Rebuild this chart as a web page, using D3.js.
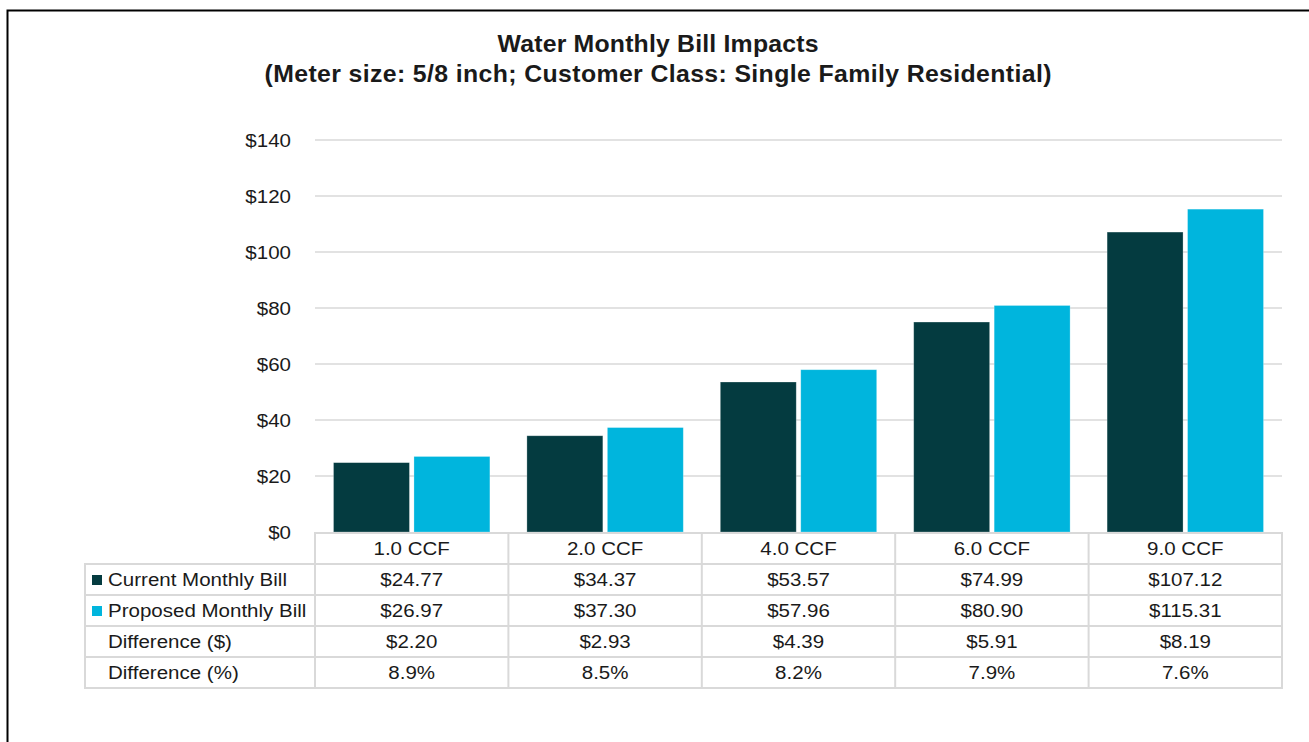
<!DOCTYPE html>
<html>
<head>
<meta charset="utf-8">
<script src="https://cdnjs.cloudflare.com/ajax/libs/d3/7.8.5/d3.min.js"></script>
<style>
  html, body { margin: 0; padding: 0; background: #ffffff; }
  svg { display: block; }
  text { font-family: "Liberation Sans", Arial, sans-serif; fill: #1a1a1a; }
</style>
</head>
<body>
<div id="chart"></div>
<script>
// ---- data ----
const categories = ['1.0 CCF', '2.0 CCF', '4.0 CCF', '6.0 CCF', '9.0 CCF'];
const seriesNames = ['Current Monthly Bill', 'Proposed Monthly Bill'];
const currentBill = [24.77, 34.37, 53.57, 74.99, 107.12];
const proposedBill = [26.97, 37.30, 57.96, 80.90, 115.31];
const diffDollar = ['$2.20', '$2.93', '$4.39', '$5.91', '$8.19'];
const diffPercent = ['8.9%', '8.5%', '8.2%', '7.9%', '7.6%'];
const yTicks = [0, 20, 40, 60, 80, 100, 120, 140];
const titleLines = [
    'Water Monthly Bill Impacts',
    '(Meter size: 5/8 inch; Customer Class: Single Family Residential)'
];

const colors = ['#043b40', '#00b5dd'];
const width = 1309, height = 742;
const SX = 1.08; // the source text is slightly wide
const plot = { left: 315, right: 1282, top: 140, bottom: 532 };
const rowH = 31;

const svg = d3.select('#chart').append('svg')
    .attr('width', width)
    .attr('height', height);

// outer frame
svg.append('rect')
    .attr('x', 7.5).attr('y', 10.5)
    .attr('width', width + 20).attr('height', height + 20)
    .attr('fill', 'none')
    .attr('stroke', '#000')
    .attr('stroke-width', 2);

function addText(parent, x, y, str, opts = {}) {
    const t = parent.append('text')
        .attr('transform', `translate(${x},${y}) scale(${SX},1)`)
        .attr('text-anchor', opts.anchor || 'middle')
        .attr('font-size', opts.size || 19)
        .attr('font-weight', opts.weight || 'normal')
        .text(str);
    if (opts.span) {
        t.attr('textLength', opts.span / SX).attr('lengthAdjust', 'spacing');
    }
    return t;
}

// title
addText(svg, 658, 52, titleLines[0], { size: 23, weight: 'bold', span: 321 });
addText(svg, 658, 82, titleLines[1], { size: 23, weight: 'bold', span: 787 });

// scales
const x0 = d3.scaleBand()
    .domain(categories)
    .range([plot.left, plot.right])
    .paddingInner(0).paddingOuter(0);

const x1 = d3.scaleBand()
    .domain(seriesNames)
    .range([0, x0.bandwidth()])
    .paddingInner(0.056)
    .paddingOuter(0.23);

const y = d3.scaleLinear()
    .domain([0, 140])
    .range([plot.bottom, plot.top]);

// gridlines + tick labels
const grid = svg.append('g').attr('class', 'grid');
grid.selectAll('line')
    .data(yTicks.filter(d => d > 0))
    .enter().append('line')
    .attr('x1', plot.left).attr('x2', plot.right)
    .attr('y1', d => y(d)).attr('y2', d => y(d))
    .attr('stroke', '#d9d9d9')
    .attr('stroke-width', 1.5);

const tickG = svg.append('g').attr('class', 'y-ticks');
yTicks.forEach(t => {
    addText(tickG, 291, y(t) + 7, '$' + t, { anchor: 'end' });
});

// bars
const barData = categories.map((c, i) => ({
    cat: c,
    values: [
        { name: seriesNames[0], v: currentBill[i], color: colors[0] },
        { name: seriesNames[1], v: proposedBill[i], color: colors[1] }
    ]
}));

const groups = svg.append('g').attr('class', 'bars')
    .selectAll('g')
    .data(barData)
    .enter().append('g')
    .attr('transform', d => `translate(${x0(d.cat)},0)`);

groups.selectAll('rect')
    .data(d => d.values)
    .enter().append('rect')
    .attr('x', d => x1(d.name))
    .attr('width', x1.bandwidth())
    .attr('y', d => y(d.v))
    .attr('height', d => y(0) - y(d.v))
    .attr('fill', d => d.color)
    .attr('stroke', '#ffffff')
    .attr('stroke-opacity', 0.35)
    .attr('stroke-width', 0.75);

// data table
const table = svg.append('g').attr('class', 'data-table');
const tableTop = plot.bottom + 1;
const labelLeft = 85;
const lineColor = '#d9d9d9';

const rows = [
    { label: seriesNames[0], key: 0, cells: currentBill.map(v => '$' + d3.format(',.2f')(v)) },
    { label: seriesNames[1], key: 1, cells: proposedBill.map(v => '$' + d3.format(',.2f')(v)) },
    { label: 'Difference ($)', key: null, cells: diffDollar },
    { label: 'Difference (%)', key: null, cells: diffPercent }
];

// header row (categories)
table.append('rect')
    .attr('x', plot.left).attr('y', tableTop)
    .attr('width', plot.right - plot.left).attr('height', rowH)
    .attr('fill', 'none').attr('stroke', lineColor).attr('stroke-width', 2);
categories.forEach(c => {
    addText(table, x0(c) + x0.bandwidth() / 2, tableTop + 22, c);
});

rows.forEach((r, i) => {
    const ry = tableTop + rowH * (i + 1);
    table.append('rect')
        .attr('x', labelLeft).attr('y', ry)
        .attr('width', plot.right - labelLeft).attr('height', rowH)
        .attr('fill', 'none').attr('stroke', lineColor).attr('stroke-width', 2);
    if (r.key !== null) {
        table.append('rect')
            .attr('x', 92).attr('y', ry + 11)
            .attr('width', 10).attr('height', 10)
            .attr('fill', colors[r.key]);
    }
    addText(table, 108, ry + 22, r.label, { anchor: 'start' });
    r.cells.forEach((cell, j) => {
        addText(table, x0(categories[j]) + x0.bandwidth() / 2, ry + 22, cell);
    });
});

// column separators
table.selectAll('line.col')
    .data(categories)
    .enter().append('line')
    .attr('class', 'col')
    .attr('x1', d => x0(d)).attr('x2', d => x0(d))
    .attr('y1', tableTop).attr('y2', tableTop + rowH * 5)
    .attr('stroke', lineColor).attr('stroke-width', 2);
</script>
</body>
</html>
